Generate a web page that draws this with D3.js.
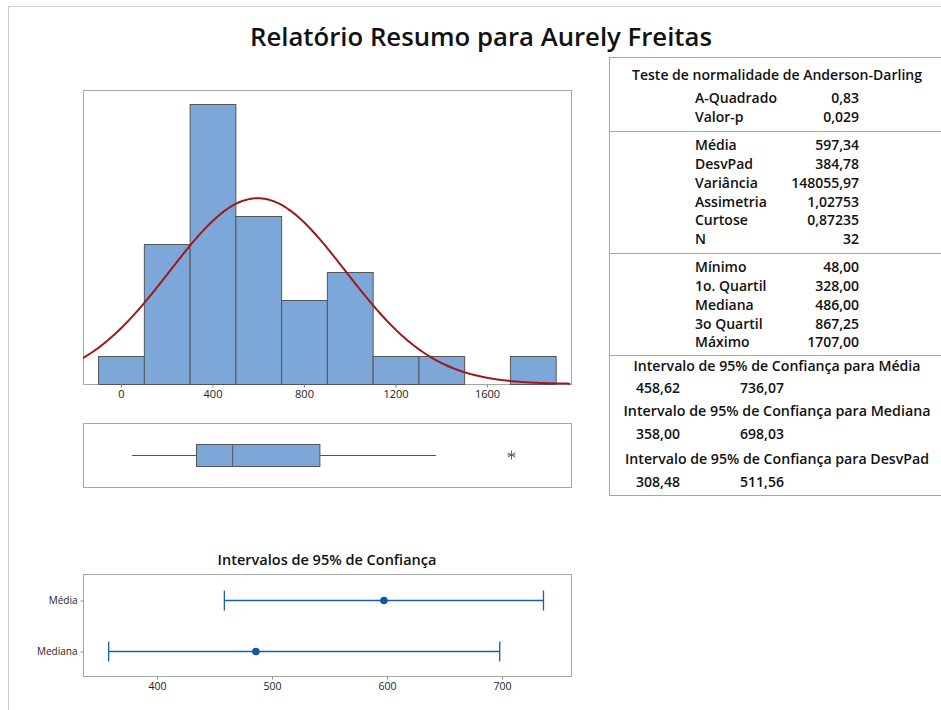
<!DOCTYPE html>
<html><head><meta charset="utf-8">
<script src="https://cdn.jsdelivr.net/npm/d3@7"></script>
<style>
html,body{margin:0;padding:0;background:#fff;}
svg{display:block;font-family:"Open Sans","Noto Sans",sans-serif;}
</style></head>
<body>
<svg id="c" width="941" height="710"></svg>
<script>
// ---- data ----
const binEdges = [-100, 100, 300, 500, 700, 900, 1100, 1300, 1500, 1700, 1900];
const binCounts = [1, 5, 10, 6, 3, 4, 1, 1, 0, 1];
const histTicks = [0, 400, 800, 1200, 1600];
const fitMean = 597.34, fitSd = 384.78, fitN = 32;
const boxStats = {whiskerLow: 48, q1: 328, median: 486, q3: 867.25, whiskerHigh: 1377};
const outliers = [1707];
const ciLabels = ["Média", "Mediana"];
const ciLow = [458.62, 358.00];
const ciHigh = [736.07, 698.03];
const ciPoint = [597.34, 486.00];
const ciTicks = [400, 500, 600, 700];
const tableAD = [["A-Quadrado", "0,83"], ["Valor-p", "0,029"]];
const tableDesc = [["Média", "597,34"], ["DesvPad", "384,78"], ["Variância", "148055,97"], ["Assimetria", "1,02753"], ["Curtose", "0,87235"], ["N", "32"]];
const tableQuant = [["Mínimo", "48,00"], ["1o. Quartil", "328,00"], ["Mediana", "486,00"], ["3o Quartil", "867,25"], ["Máximo", "1707,00"]];
const tableCI = [["Intervalo de 95% de Confiança para Média", "458,62", "736,07"],
                 ["Intervalo de 95% de Confiança  para Mediana", "358,00", "698,03"],
                 ["Intervalo de 95% de Confiança  para DesvPad", "308,48", "511,56"]];

const svg = d3.select("#c");
const frameCol = "#a6a6a6";
const barFill = "#7da7d8";
const barStroke = "#555";
const ciCol = "#1a5caf";

// page frame
svg.append("line").attr("x1",8).attr("x2",941).attr("y1",6.5).attr("y2",6.5).attr("stroke","#cfcfcf");
svg.append("line").attr("x1",8.5).attr("x2",8.5).attr("y1",6).attr("y2",710).attr("stroke","#cfcfcf");

// title
svg.append("text").attr("x",481).attr("y",46).attr("text-anchor","middle")
  .attr("font-size",26).attr("font-weight",600).attr("fill","#111")
  .attr("textLength",462).attr("lengthAdjust","spacingAndGlyphs")
  .text("Relatório Resumo para Aurely Freitas");

// ---- histogram ----
const hx0 = 83, hx1 = 571, hy0 = 90, hy1 = 384;
const x = d3.scaleLinear().domain([-166, 1967]).range([hx0, hx1]);
const y = d3.scaleLinear().domain([0, 10.5]).range([hy1, hy0]);
svg.append("rect").attr("x",hx0+0.5).attr("y",hy0+0.5).attr("width",hx1-hx0).attr("height",hy1-hy0)
  .attr("fill","none").attr("stroke",frameCol);
const defs = svg.append("defs");
defs.append("clipPath").attr("id","hclip").append("rect").attr("x",hx0).attr("y",hy0).attr("width",hx1-hx0+1).attr("height",hy1-hy0+1);
const bins = binCounts.map((c, i) => ({c, lo: binEdges[i], hi: binEdges[i+1]})).filter(b => b.c > 0);
svg.append("g").selectAll("rect").data(bins).join("rect")
  .attr("x", b => x(b.lo) + 0.5)
  .attr("width", b => x(b.hi) - x(b.lo))
  .attr("y", b => y(b.c) + 0.5)
  .attr("height", b => y(0) - y(b.c))
  .attr("fill", barFill).attr("stroke", barStroke).attr("stroke-width",1);
// fitted normal curve from mean / sd in the table
const binW = binEdges[1] - binEdges[0];
const xs = d3.range(x.domain()[0], x.domain()[1] + 1, 5);
const curve = d3.line().x(v => x(v)).y(v => y(fitN * binW * Math.exp(-0.5 * ((v - fitMean)/fitSd) ** 2) / (fitSd * Math.sqrt(2*Math.PI)))).curve(d3.curveBasis);
svg.append("path").attr("d", curve(xs)).attr("fill","none").attr("stroke","#9b1a1a").attr("stroke-width",2).attr("clip-path","url(#hclip)");
const hAxis = svg.append("g").attr("transform",`translate(0,${hy1+0.5})`)
  .call(d3.axisBottom(x).tickValues(histTicks).tickSize(3).tickPadding(3).tickFormat(d3.format("d")));
hAxis.select(".domain").remove();
hAxis.selectAll("line").attr("stroke","#888");
hAxis.selectAll("text").attr("font-size",11).attr("font-weight",500).attr("fill","#222").attr("font-family","'Open Sans',sans-serif");

// ---- boxplot ----
const by0 = 423, by1 = 487, bMid = 455, bHalf = 11;
svg.append("rect").attr("x",hx0+0.5).attr("y",by0+0.5).attr("width",hx1-hx0).attr("height",by1-by0)
  .attr("fill","none").attr("stroke",frameCol);
const bg = svg.append("g");
bg.append("line").attr("x1",x(boxStats.whiskerLow)).attr("x2",x(boxStats.q1)).attr("y1",bMid+0.5).attr("y2",bMid+0.5).attr("stroke","#555");
bg.append("line").attr("x1",x(boxStats.q3)).attr("x2",x(boxStats.whiskerHigh)).attr("y1",bMid+0.5).attr("y2",bMid+0.5).attr("stroke","#555");
bg.append("rect").attr("x",x(boxStats.q1)+0.5).attr("y",bMid-bHalf+0.5).attr("width",x(boxStats.q3)-x(boxStats.q1)).attr("height",2*bHalf)
  .attr("fill",barFill).attr("stroke","#555");
bg.append("line").attr("x1",x(boxStats.median)+0.5).attr("x2",x(boxStats.median)+0.5).attr("y1",bMid-bHalf).attr("y2",bMid+bHalf).attr("stroke","#555");
outliers.forEach(o => {
  const cx = x(o), r = 4.5;
  [0, 60, 120].forEach(a => {
    const rad = a * Math.PI / 180;
    bg.append("line").attr("x1",cx - r*Math.sin(rad)).attr("x2",cx + r*Math.sin(rad))
      .attr("y1",bMid - r*Math.cos(rad)).attr("y2",bMid + r*Math.cos(rad)).attr("stroke","#555").attr("stroke-width",0.9);
  });
  bg.append("line").attr("x1",cx-4).attr("x2",cx+4).attr("y1",bMid).attr("y2",bMid).attr("stroke","#555").attr("stroke-width",0.9);
});

// ---- CI plot ----
const cx0 = 83, cx1 = 571, cy0 = 574, cy1 = 676;
const xc = d3.scaleLinear().domain([335.7, 760]).range([cx0, cx1]);
const yc = d3.scalePoint().domain(ciLabels).range([600, 651]);
svg.append("text").attr("x",327).attr("y",565).attr("text-anchor","middle").attr("font-size",14.5).attr("font-weight",600).attr("fill","#111")
  .text("Intervalos de 95% de Confiança");
svg.append("rect").attr("x",cx0+0.5).attr("y",cy0+0.5).attr("width",cx1-cx0).attr("height",cy1-cy0)
  .attr("fill","none").attr("stroke",frameCol);
const cg = svg.append("g");
ciLabels.forEach((lab, i) => {
  const yy = yc(lab) + 0.5;
  cg.append("line").attr("x1",xc(ciLow[i])).attr("x2",xc(ciHigh[i])).attr("y1",yy).attr("y2",yy).attr("stroke",ciCol).attr("stroke-width",1.3);
  [ciLow[i], ciHigh[i]].forEach(v => cg.append("line").attr("x1",xc(v)).attr("x2",xc(v)).attr("y1",yy-10).attr("y2",yy+10).attr("stroke",ciCol).attr("stroke-width",1.3));
  cg.append("circle").attr("cx",xc(ciPoint[i])).attr("cy",yy).attr("r",3.8).attr("fill","#1256a8");
});
const cAxis = svg.append("g").attr("transform",`translate(0,${cy1+0.5})`)
  .call(d3.axisBottom(xc).tickValues(ciTicks).tickSize(3).tickPadding(3).tickFormat(d3.format("d")));
cAxis.select(".domain").remove();
cAxis.selectAll("line").attr("stroke","#888");
cAxis.selectAll("text").attr("font-size",10.5).attr("font-weight",500).attr("fill","#222").attr("font-family","'Open Sans',sans-serif");
const cyAxis = svg.append("g").attr("transform",`translate(${cx0+0.5},0.5)`)
  .call(d3.axisLeft(yc).tickSize(3).tickPadding(3));
cyAxis.select(".domain").remove();
cyAxis.selectAll("line").attr("stroke","#888");
cyAxis.selectAll("text").attr("font-size",10).attr("font-weight",500).attr("fill","#222").attr("font-family","'Open Sans',sans-serif");

// ---- statistics table ----
const tx0 = 609, tx1 = 941;
const tg = svg.append("g").attr("font-size",14).attr("font-weight",600).attr("fill","#111").style("white-space","pre");
tg.append("rect").attr("x",tx0+0.5).attr("y",57.5).attr("width",tx1-tx0+5).attr("height",495-57).attr("fill","none").attr("stroke",frameCol);
[131, 253, 355].forEach(yy => tg.append("line").attr("x1",tx0).attr("x2",tx1).attr("y1",yy+0.5).attr("y2",yy+0.5).attr("stroke",frameCol));
const tcx = 777, lx = 695, vx = 859, dy = 5;
tg.append("text").attr("x",tcx).attr("y",75+dy).attr("text-anchor","middle").attr("textLength",290).attr("lengthAdjust","spacingAndGlyphs").text("Teste de normalidade de Anderson-Darling");
function rows(arr, y0) {
  arr.forEach((r, i) => {
    const yy = y0 + i * 18.85 + dy;
    tg.append("text").attr("x",lx).attr("y",yy).text(r[0]);
    tg.append("text").attr("x",vx).attr("y",yy).attr("text-anchor","end").text(r[1]);
  });
}
rows(tableAD, 98);
rows(tableDesc, 145);
rows(tableQuant, 267);
const ciHeadY = [366, 411, 459], ciValY = [388, 434, 482];
const ciHeadW = [287, 307, 304];
tableCI.forEach((r, i) => {
  tg.append("text").attr("x",tcx).attr("y",ciHeadY[i]+dy).attr("text-anchor","middle")
    .attr("textLength",ciHeadW[i]).attr("lengthAdjust","spacingAndGlyphs").text(r[0]);
  tg.append("text").attr("x",658).attr("y",ciValY[i]+dy).attr("text-anchor","middle").text(r[1]);
  tg.append("text").attr("x",762).attr("y",ciValY[i]+dy).attr("text-anchor","middle").text(r[2]);
});
</script>
</body></html>
